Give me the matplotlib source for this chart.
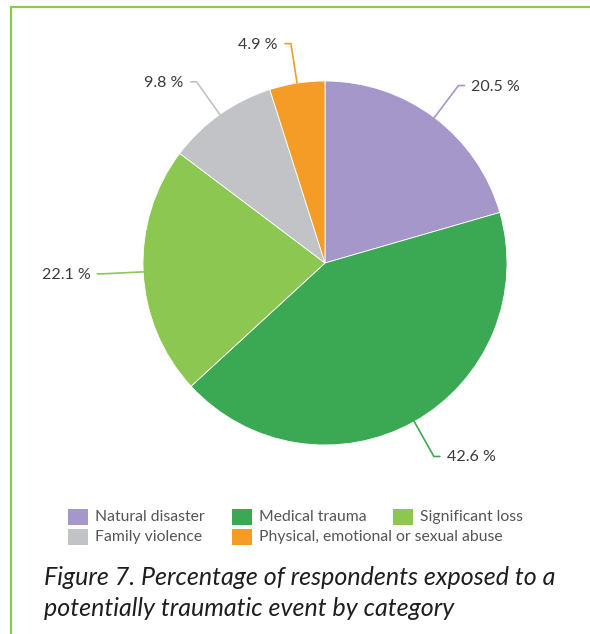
import matplotlib.pyplot as plt
import numpy as np

# Share of respondents by type of potentially traumatic event
categories = ['Natural disaster', 'Medical trauma', 'Significant loss',
              'Family violence', 'Physical, emotional or sexual abuse']
shares = [20.5, 42.6, 22.1, 9.8, 4.9]
labels = ['20.5 %', '42.6 %', '22.1 %', '9.8 %', '4.9 %']
colors = ['#a597c9', '#3ba853', '#8cc751', '#c2c3c6', '#f59c27']
caption = ('Figure 7. Percentage of respondents exposed to a\n'
           'potentially traumatic event by category')

W, H = 590, 634
FRAME = '#8cc751'
TEXT = '#3a3a3a'

fig = plt.figure(figsize=(W / 100, H / 100), dpi=100)
ax = fig.add_axes([0, 0, 1, 1])

cx, cy, r = 325, H - 263, 182
ax.pie(shares, colors=colors, startangle=90, counterclock=False,
       center=(cx, cy), radius=r, frame=True,
       wedgeprops=dict(linewidth=0.6, edgecolor='white'))

# leader lines: radial stub from the slice middle, then a short horizontal tick
cum = np.cumsum([0] + shares[:-1])
total = sum(shares)
for start, val, lab, col in zip(cum, shares, labels, colors):
    theta = np.deg2rad((start + val / 2) / total * 360)
    s, c = np.sin(theta), np.cos(theta)
    side = 1 if s >= 0 else -1
    p0 = (cx + r * s, cy + r * c)
    p1 = (cx + (r + 40) * s, cy + (r + 40) * c)
    p2 = (p1[0] + 6 * side, p1[1])
    ax.plot([p0[0], p1[0], p2[0]], [p0[1], p1[1], p2[1]], color=col,
            lw=1.2, solid_joinstyle='round', solid_capstyle='round')
    ax.text(p2[0] + 7 * side, p2[1] - 1, lab, ha='left' if side > 0 else 'right',
            va='center', fontsize=11.5, family='Lato', color=TEXT)

# legend laid out row by row
leg_x = [68, 232, 393]
leg_y = [H - 517, H - 537]
for i, (name, col) in enumerate(zip(categories, colors)):
    row, colm = divmod(i, 3) if i < 3 else (1, i - 3)
    x, y = leg_x[colm], leg_y[row]
    ax.add_patch(plt.Rectangle((x, y - 8), 20, 16, color=col, lw=0))
    ax.text(x + 27, y, name, ha='left', va='center', fontsize=11.3,
            family='Lato', color='#555555')

ax.text(44, H - 593, caption, ha='left', va='center', fontsize=18,
        family='Lato', style='italic', color='#1e1e1e', linespacing=1.45)

# green frame along the top and left edge
ax.plot([11, 11, W], [0, H - 7, H - 7], color=FRAME, lw=1.6,
        solid_joinstyle='miter')

ax.set_xlim(0, W)
ax.set_ylim(0, H)
ax.set_aspect('equal')
ax.axis('off')

fig.savefig('out.png', dpi=100, facecolor='white')
